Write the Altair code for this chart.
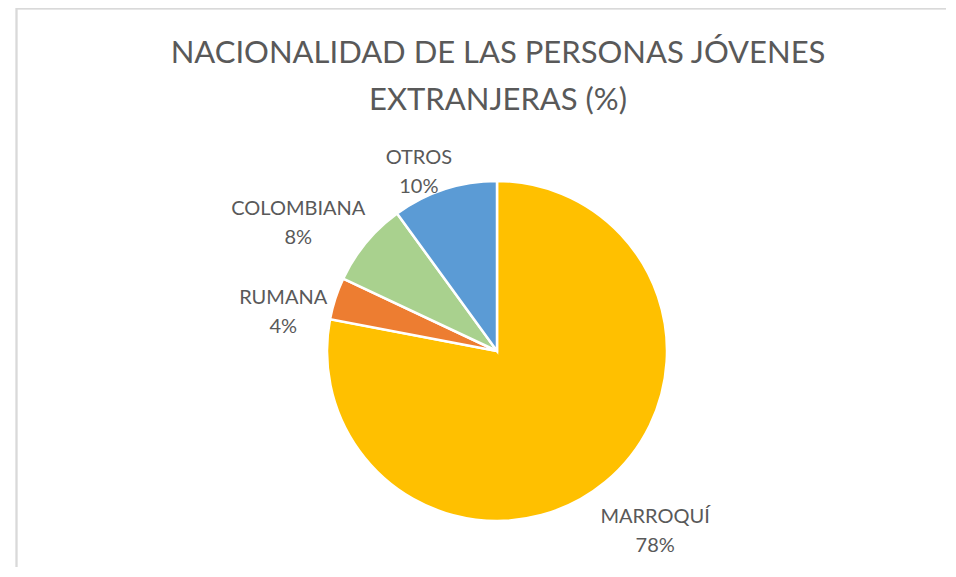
import altair as alt
import pandas as pd

categories = ["MARROQUÍ", "RUMANA", "COLOMBIANA", "OTROS"]
values = [78, 4, 8, 10]
colors = ["#FFC000", "#ED7D31", "#A9D18E", "#5B9BD5"]
title_lines = ["NACIONALIDAD DE LAS PERSONAS JÓVENES", "EXTRANJERAS (%)"]

df = pd.DataFrame({"cat": categories, "value": values, "idx": list(range(len(categories)))})

CX, CY, R = 489, 223, 170
GAP = 4
ROT = -0.07
CHAR_W = 14
BLOCK_H = 46
TEXT_COLOR = "#595959"
FONT = "Lato"

base = alt.Chart(df)

pie = base.mark_arc(outerRadius=R, stroke="white", strokeWidth=2.5).encode(
    theta=alt.Theta("value:Q", stack=True),
    order=alt.Order("idx:Q"),
    color=alt.Color("cat:N", scale=alt.Scale(domain=categories, range=colors), legend=None),
    x=alt.value(CX),
    y=alt.value(CY),
)

labels = (
    base.transform_joinaggregate(total="sum(value)")
    .transform_window(cum="sum(value)", sort=[alt.SortField("idx")], frame=[None, 0])
    .transform_calculate(
        mid=f"(datum.cum - datum.value / 2) / datum.total * 2 * PI + {ROT}",
        w=f"length(datum.cat) * {CHAR_W}",
    )
    .transform_calculate(
        d=f"{R} + {GAP} + abs(sin(datum.mid)) * datum.w / 2 + abs(cos(datum.mid)) * {BLOCK_H} / 2",
    )
    .transform_calculate(
        lx=f"{CX} + datum.d * sin(datum.mid)",
        ly=f"{CY} - datum.d * cos(datum.mid)",
        label="datum.cat + '\\n' + datum.value + '%'",
    )
    .mark_text(
        lineBreak="\n",
        align="center",
        baseline="middle",
        fontSize=20,
        lineHeight=29,
        font=FONT,
        color=TEXT_COLOR,
    )
    .encode(
        x=alt.X("lx:Q", scale=None),
        y=alt.Y("ly:Q", scale=None),
        text="label:N",
    )
)

title = alt.Chart(pd.DataFrame({"k": [0]})).mark_text(
    text=title_lines,
    align="center",
    baseline="alphabetic",
    fontSize=31,
    lineHeight=47,
    font=FONT,
    color=TEXT_COLOR,
).encode(x=alt.value(CX + 1), y=alt.value(-65))

border_top = base.mark_rule(color="#D9D9D9", strokeWidth=1.5).encode(
    x=alt.value(8.5), x2=alt.value(940), y=alt.value(-119.5)
)
border_left = base.mark_rule(color="#D9D9D9", strokeWidth=1.5).encode(
    x=alt.value(8.5), y=alt.value(-120), y2=alt.value(445)
)

chart = (
    alt.layer(border_top, border_left, pie, labels, title)
    .properties(
        width=938,
        height=439,
        padding={"left": 0, "top": 120, "right": 0, "bottom": 0},
        autosize=alt.AutoSizeParams(type="none"),
    )
    .configure_view(stroke=None)
)

chart.save("out.html", embed_options={"renderer": "svg", "actions": False})
